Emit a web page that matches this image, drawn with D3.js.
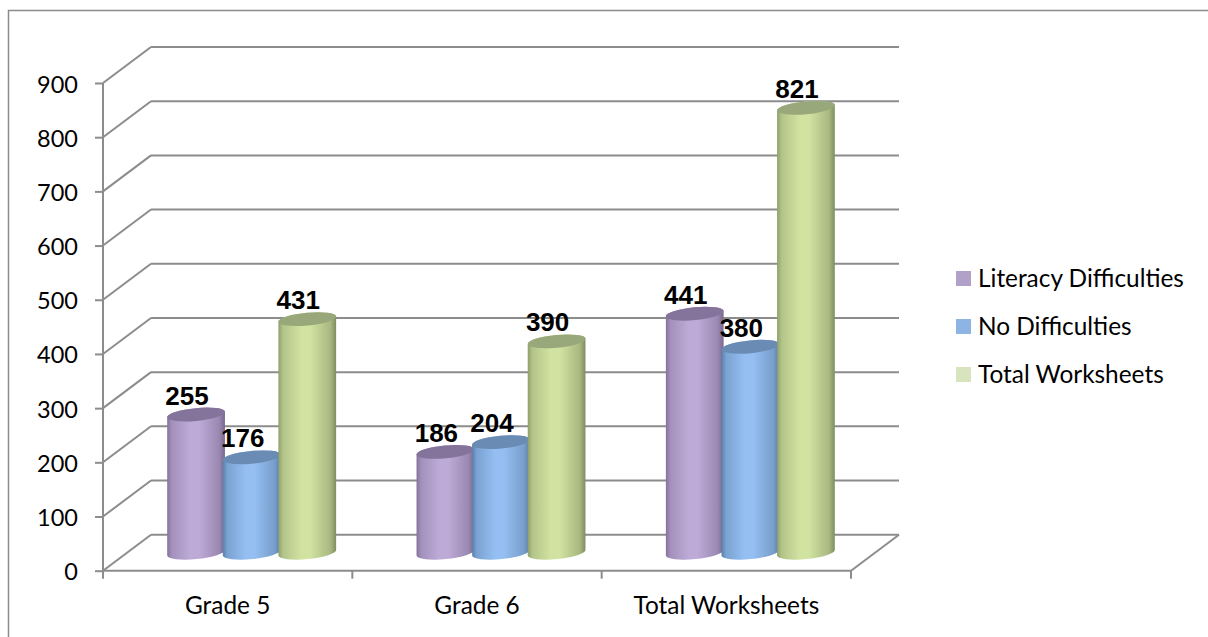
<!DOCTYPE html>
<html>
<head>
<meta charset="utf-8">
<script src="https://cdn.jsdelivr.net/npm/d3@7/dist/d3.min.js"></script>
<style>
  html, body { margin: 0; padding: 0; background: #fff; }
  svg { display: block; }
  text { font-family: Lato, "Open Sans", sans-serif; fill: #000; }
</style>
</head>
<body>
<svg id="chart" width="1208" height="637"></svg>
<script>
// Worksheet counts by grade, drawn as a 3D-style cylinder column chart.
const categories = ["Grade 5", "Grade 6", "Total Worksheets"];
const seriesNames = ["Literacy Difficulties", "No Difficulties", "Total Worksheets"];
const literacyDifficulties = [255, 186, 441];
const noDifficulties = [176, 204, 380];
const totalWorksheets = [431, 390, 821];
const yTicks = [0, 100, 200, 300, 400, 500, 600, 700, 800, 900];
const seriesColors = [
  { edgeL: "#84729b", edgeR: "#77668c", mid: "#bdaad7", top: "#84739a", key: "#b1a0c7" },
  { edgeL: "#5a80ab", edgeR: "#587ca5", mid: "#95bff2", top: "#6a8cb4", key: "#8eb4e3" },
  { edgeL: "#8f9f6c", edgeR: "#7f8d60", mid: "#d1e3a1", top: "#98a87a", key: "#d7e4bd" }
];

const svg = d3.select("#chart");
const grid = "#8c8c8c";

// Scales: front face of the plot box, with the back wall offset up and to the right
const y = d3.scaleLinear().domain([0, 900]).range([570.7, 83]);
const x0 = d3.scaleBand().domain(categories).range([103, 851]);
const depthX = 48, depthY = -36;

// Outer frame runs off the right and bottom of the page
svg.append("rect").attr("x", 8.5).attr("y", 10.5).attr("width", 1300).attr("height", 700)
  .attr("fill", "#fff").attr("stroke", grid).attr("stroke-width", 1.5);

// Back wall gridlines, side wall diagonals
const wall = svg.append("g").attr("stroke", grid).attr("stroke-width", 2).attr("fill", "none");
wall.selectAll("line.g").data(yTicks).join("line").attr("class", "g")
  .attr("x1", 103 + depthX).attr("x2", 851 + depthX)
  .attr("y1", d => y(d) + depthY).attr("y2", d => y(d) + depthY);
wall.selectAll("line.d").data(yTicks).join("line").attr("class", "d")
  .attr("x1", 103).attr("x2", 103 + depthX)
  .attr("y1", d => y(d)).attr("y2", d => y(d) + depthY);
wall.append("line").attr("x1", 851).attr("x2", 851 + depthX)
  .attr("y1", y(0)).attr("y2", y(0) + depthY);

// Axes
const yAxis = d3.axisLeft(y).tickValues(yTicks).tickSize(8).tickPadding(17).tickFormat(d3.format("d"));
const gy = svg.append("g").attr("transform", "translate(103,0)").call(yAxis);
const xAxis = d3.axisBottom(x0).tickSize(0).tickPadding(26);
const gx = svg.append("g").attr("transform", `translate(0,${y(0)})`).call(xAxis);
[gy, gx].forEach(g => {
  g.selectAll("path.domain").attr("stroke", grid).attr("stroke-width", 2);
  g.selectAll(".tick line").attr("stroke", grid).attr("stroke-width", 2);
  g.selectAll("text").style("font-family", "Lato, 'Open Sans', sans-serif").attr("fill", "#000");
});
gy.selectAll("text").style("font-size", "23.5px").attr("transform", "translate(0,1.5)");
gx.selectAll("text").style("font-size", "24.4px");
gy.selectAll("path.domain").attr("d", `M0,${y(900)}V${y(0)}`);
gx.selectAll("path.domain").attr("d", "M103,0H851");
gx.selectAll(".tick line").remove();
svg.append("g").selectAll("line").data(x0.domain().map(d => x0(d)).concat([851])).join("line")
  .attr("x1", d => d).attr("x2", d => d)
  .attr("y1", y(0)).attr("y2", y(0) + 8)
  .attr("stroke", grid).attr("stroke-width", 2);

// Cylinders sit halfway through the depth of the box
const seriesValues = [literacyDifficulties, noDifficulties, totalWorksheets];
const barWidth = 55.6;
const x1 = d3.scaleBand().domain(d3.range(seriesNames.length))
  .range([-barWidth * 1.5, barWidth * 1.5]);
const midX = depthX / 2, midY = depthY / 2;
const rx = 29, ry = 6.4, tilt = -5.5 * Math.PI / 180;
const dx = rx * Math.cos(tilt), dy = rx * Math.sin(tilt);
const deg = tilt * 180 / Math.PI;

const defs = svg.append("defs");
seriesColors.forEach((c, i) => {
  const g = defs.append("linearGradient").attr("id", `cyl${i}`).attr("x1", 0).attr("x2", 1).attr("y1", 0).attr("y2", 0);
  [[0, c.edgeL], [0.08, d3.interpolateRgb(c.edgeL, c.mid)(0.55)], [0.4, c.mid], [0.55, c.mid],
   [0.9, d3.interpolateRgb(c.edgeR, c.mid)(0.5)], [1, c.edgeR]]
    .forEach(([o, col]) => g.append("stop").attr("offset", o).attr("stop-color", col));
});

const labels = [];
categories.forEach((cat, ci) => {
  seriesNames.forEach((s, si) => {
    const v = seriesValues[si][ci];
    const cx = x0(cat) + x0.bandwidth() / 2 + midX + x1(si) + x1.bandwidth() / 2;
    const yb = y(0) + midY;
    const yt = y(v) + midY;
    const arc = `A${rx},${ry} ${deg} 0 `;
    // Body: the cap covers the back arc; the front arc closes the base
    svg.append("path")
      .attr("d", `M${cx - dx},${yt - dy} ${arc}1 ${cx + dx},${yt + dy} L${cx + dx},${yb + dy} ${arc}1 ${cx - dx},${yb - dy} Z`)
      .attr("fill", `url(#cyl${si})`);
    svg.append("ellipse")
      .attr("cx", cx).attr("cy", yt).attr("rx", rx).attr("ry", ry)
      .attr("transform", `rotate(${deg} ${cx} ${yt})`)
      .attr("fill", seriesColors[si].top);
    labels.push({ v, x: cx - 9, y: yt - 10 });
  });
});

// Value labels sit above all the columns
svg.append("g").selectAll("text").data(labels).join("text")
  .attr("x", d => d.x).attr("y", d => d.y)
  .attr("text-anchor", "middle")
  .style("font-family", "'Liberation Sans', Arial, sans-serif")
  .style("font-weight", "bold").style("font-size", "26px")
  .text(d => d.v);

// Legend
const legend = svg.append("g").selectAll("g").data(seriesNames).join("g")
  .attr("transform", (d, i) => `translate(956,${271 + i * 48})`);
legend.append("rect").attr("width", 15).attr("height", 15).attr("fill", (d, i) => seriesColors[i].key);
legend.append("text").attr("x", 22).attr("y", 16).style("font-size", "24.4px").text(d => d);
</script>
</body>
</html>
